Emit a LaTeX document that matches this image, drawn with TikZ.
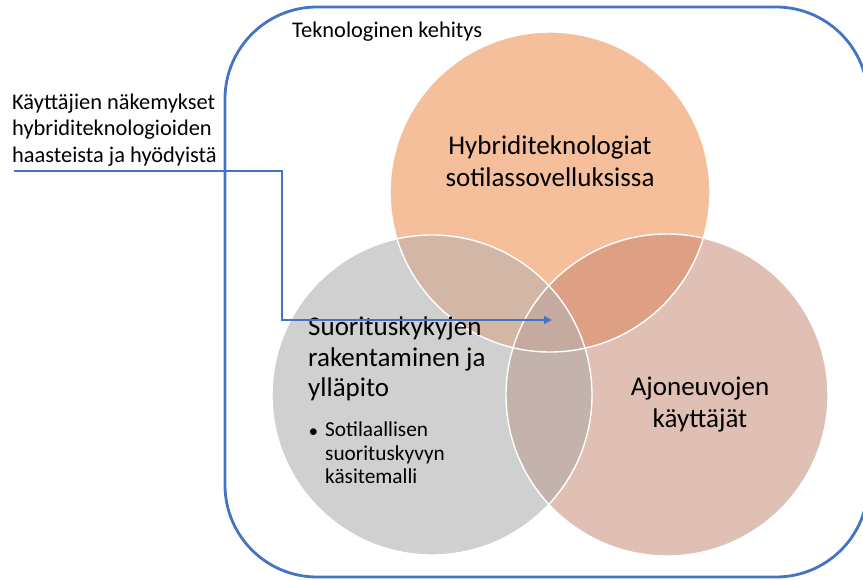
\documentclass[tikz,border=0pt]{standalone}
\usepackage{fontspec}
\setmainfont{Carlito}
\usetikzlibrary{arrows.meta}
\definecolor{frameblue}{HTML}{4472C4}
\definecolor{cOr}{HTML}{F5BF9B}
\definecolor{cGy}{HTML}{D0D0D0}
\definecolor{cPk}{HTML}{E0BFB5}
\definecolor{cOG}{HTML}{D3B7A6}
\definecolor{cOP}{HTML}{DEA085}
\definecolor{cGP}{HTML}{C4B3AD}
\definecolor{cAll}{HTML}{C4AA9F}
\begin{document}
\begin{tikzpicture}[x=1pt,y=-1pt,
  frame/.style={draw=frameblue,line width=2.8pt,rounded corners=92pt},
  flow/.style={draw=frameblue,line width=2.2pt,-{Triangle[length=8pt,width=7.5pt]}},
  rim/.style={draw=white,line width=1.4pt},
  txt/.style={inner sep=0pt,text=black},
  big/.style={txt,align=center,font=\fontsize{27}{32}\selectfont},
  side/.style={txt,align=left,font=\fontsize{22.4}{26.5}\selectfont}]

\useasboundingbox (0,0) rectangle (863,580);

% circle geometry
\def\orgcirc{(550,192) circle[radius=160]}
\def\graycirc{(432,395) circle[radius=160]}
\def\pinkcirc{(667,395) circle[radius=161]}

% outer frame
\draw[frame] (225,7) rectangle (868,577);

% the three sets and their overlaps
\fill[cOr] \orgcirc;
\fill[cGy] \graycirc;
\fill[cPk] \pinkcirc;
\begin{scope}
  \clip \orgcirc;
  \fill[cOG] \graycirc;
\end{scope}
\begin{scope}
  \clip \orgcirc;
  \fill[cOP] \pinkcirc;
\end{scope}
\begin{scope}
  \clip \graycirc;
  \fill[cGP] \pinkcirc;
\end{scope}
\begin{scope}
  \clip \orgcirc;
  \clip \graycirc;
  \fill[cAll] \pinkcirc;
\end{scope}
\draw[rim] \orgcirc;
\draw[rim] \graycirc;
\draw[rim] \pinkcirc;

% labels
\node[side,anchor=west] (tech) at (292,32) {Teknologinen kehitys};
\node[side,anchor=west] (views) at (12,130)
  {Käyttäjien näkemykset\\hybriditeknologioiden\\haasteista ja hyödyistä};
\node[big] (hybrid) at (550,161) {Hybriditeknologiat\\sotilassovelluksissa};
\node[big] (users) at (700,405) {Ajoneuvojen\\käyttäjät};
\node[txt,anchor=north west,align=left,font=\fontsize{27}{30.5}\selectfont]
  (capab) at (308,317) {Suorituskykyjen\\rakentaminen ja\\ylläpito};
\node[txt,anchor=north west,align=left,font=\fontsize{21.3}{23.5}\selectfont]
  (model) at (325,422) {Sotilaallisen\\suorituskyvyn\\käsitemalli};
\node[txt,anchor=east,font=\fontsize{17}{20}\selectfont] (dot) at (318,433) {$\bullet$};

% connector into the common area
\coordinate (arrowstart) at (14,171);
\coordinate (overlap) at (552,320);
\draw[flow] (arrowstart) -- (282,171) |- (overlap);

\end{tikzpicture}
\end{document}
